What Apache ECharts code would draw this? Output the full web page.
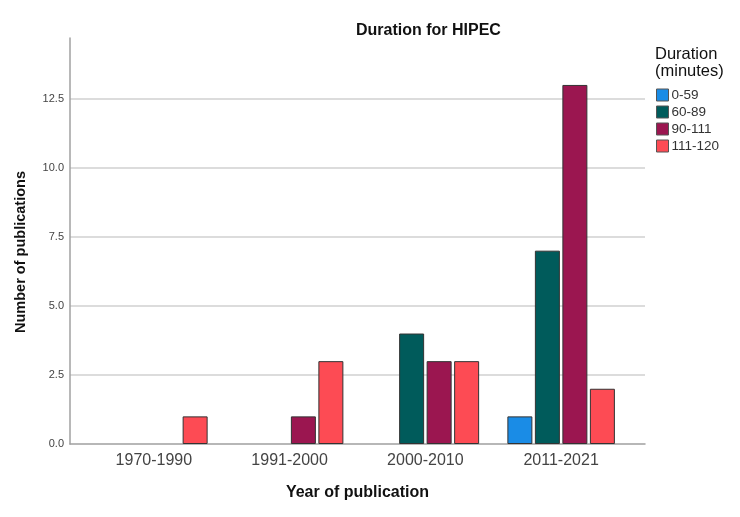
<!DOCTYPE html>
<html>
<head>
<meta charset="utf-8">
<script src="https://cdn.jsdelivr.net/npm/echarts@6/dist/echarts.min.js"></script>
<style>
html, body { margin: 0; padding: 0; background: #fff; }
#chart { width: 740px; height: 517px; }
</style>
</head>
<body>
<div id="chart"></div>
<script>
const categories = ['1970-1990', '1991-2000', '2000-2010', '2011-2021'];
const groups = ['0-59', '60-89', '90-111', '111-120'];
// '-' keeps the slot empty (no bar) like the original
const d0_59 = ['-', '-', '-', 1];
const d60_89 = ['-', '-', 4, 7];
const d90_111 = ['-', 1, 3, 13];
const d111_120 = [1, 3, 3, 2];
const yTicks = [0, 2.5, 5, 7.5, 10, 12.5];

const colors = ['#1a8ce6', '#005b5b', '#9b1650', '#fd4b54'];
const font = 'Liberation Sans, Arial, sans-serif';

const chart = echarts.init(document.getElementById('chart'));

const mkBar = (name, data, i) => ({
    name: name,
    type: 'bar',
    xAxisIndex: 1,
    yAxisIndex: 1,
    data: data,
    barWidth: 25,
    barGap: '10%',
    itemStyle: { color: colors[i], borderColor: '#333', borderWidth: 1 }
});

const option = {
    animation: false,
    title: {
        text: 'Duration for HIPEC',
        left: 351,
        top: 18,
        textStyle: { fontFamily: font, fontSize: 16, fontWeight: 'bold', color: '#111' }
    },
    graphic: [{
        type: 'text',
        left: 655,
        top: 46,
        style: {
            text: 'Duration\n(minutes)',
            font: '16.5px ' + font,
            fill: '#111',
            lineHeight: 17
        }
    }, {
        type: 'text',
        x: 21,
        y: 252,
        rotation: Math.PI / 2,
        style: {
            text: 'Number of publications',
            font: 'bold 14.5px ' + font,
            fill: '#111',
            align: 'center',
            verticalAlign: 'middle'
        }
    }],
    legend: {
        orient: 'vertical',
        left: 656,
        top: 88,
        padding: 0,
        itemWidth: 12,
        itemHeight: 12,
        itemGap: 3,
        icon: 'rect',
        data: groups,
        itemStyle: { borderColor: '#555', borderWidth: 1 },
        textStyle: { fontFamily: font, fontSize: 13.5, color: '#333', padding: [0, 0, 0, -2] }
    },
    grid: [
        { left: 70, right: 95, top: 38, bottom: 73 },
        { left: 86, right: 111, top: 38, bottom: 73 }
    ],
    xAxis: [
        {
            type: 'value', gridIndex: 0, min: 0, max: 1,
            axisLine: { show: true, onZero: false, lineStyle: { color: '#a0a0a0', width: 1.5 } },
            axisTick: { show: false }, axisLabel: { show: false }, splitLine: { show: false }
        },
        {
            type: 'category', gridIndex: 1, data: categories,
            axisLine: { show: false }, axisTick: { show: false },
            axisLabel: { margin: 9, fontFamily: font, fontSize: 16, color: '#444' },
            name: 'Year of publication',
            nameLocation: 'middle',
            nameGap: 41,
            nameTextStyle: { fontFamily: font, fontSize: 16, fontWeight: 'bold', color: '#111' }
        }
    ],
    yAxis: [
        {
            type: 'value', gridIndex: 0, min: yTicks[0], max: 14.7, interval: yTicks[1] - yTicks[0],
            axisLine: { show: true, lineStyle: { color: '#a0a0a0', width: 1.5 } },
            axisTick: { show: false },
            axisLabel: {
                showMaxLabel: false, margin: 6,
                fontFamily: font, fontSize: 11, color: '#444',
                formatter: v => yTicks.includes(v) ? v.toFixed(1) : ''
            },
            splitLine: { show: true, showMinLine: false, showMaxLine: false, lineStyle: { color: '#d0d0d0', width: 1.5 } }
        },
        {
            type: 'value', gridIndex: 1, min: 0, max: 14.7, show: false
        }
    ],
    series: [
        mkBar(groups[0], d0_59, 0),
        mkBar(groups[1], d60_89, 1),
        mkBar(groups[2], d90_111, 2),
        mkBar(groups[3], d111_120, 3)
    ]
};

chart.setOption(option);
</script>
</body>
</html>
